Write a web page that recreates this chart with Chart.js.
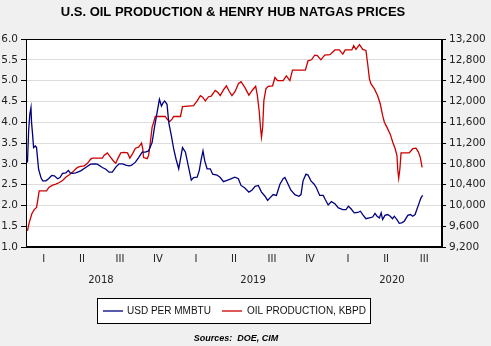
<!DOCTYPE html>
<html>
<head>
<meta charset="utf-8">
<script src="https://cdn.jsdelivr.net/npm/chart.js@4.4.0/dist/chart.umd.min.js"></script>
<style>
  html, body { margin: 0; padding: 0; background: #f0f0f0; }
  canvas { display: block; }
</style>
</head>
<body>
<canvas id="oilGasChart" width="491" height="346"></canvas>
<script>
// x values are weeks counted from 1 Jan 2018
let gasWeeks = [
    0.9, 1.3, 1.7, 2.1, 2.3, 2.6, 3.0, 3.6, 4.0, 4.7, 5.5, 6.1, 7.2, 8.1, 9.2, 10.1,
    11.2, 12.0, 12.9, 14.0, 14.9, 15.5, 16.3, 17.4, 19.1, 20.8, 22.5, 23.7, 24.8, 26.5,
    27.7, 28.8, 29.9, 31.1, 32.2, 33.4, 34.5, 35.6, 36.4, 37.8, 38.9, 40.1, 41.2, 42.3,
    43.5, 44.4, 45.2, 46.0, 46.7, 47.3, 47.8, 48.6, 49.2, 50.1, 50.9, 51.7, 52.6, 53.5,
    53.9, 54.9, 56.0, 56.9, 57.7, 58.9, 59.6, 60.3, 60.9, 61.5, 62.3, 63.4, 64.2, 65.7,
    66.8, 67.9, 69.1, 70.2, 71.8, 73.0, 73.9, 75.2, 76.6, 77.7, 78.7, 79.8, 80.9, 82.1,
    83.0, 83.8, 84.9, 86.0, 87.2, 88.3, 88.9, 89.8, 90.9, 92.3, 93.7, 94.4, 95.1, 96.1,
    96.8, 97.8, 98.9, 99.7, 100.8, 102.0, 102.7, 103.7, 104.8, 106.0, 107.2, 108.7, 109.8,
    110.6, 111.5, 112.6, 113.8, 114.7, 115.5, 116.6, 117.8, 118.9, 119.7, 120.4, 121.2,
    121.8, 122.3, 123.1, 124.0, 124.9, 125.7, 126.3, 127.2, 128.0, 128.8, 129.7, 130.9,
    131.8, 132.6, 133.4, 134.0, 134.8, 135.4, 136.0
];

let gasPrices = [
    3.03, 3.79, 4.19, 4.35, 3.99, 3.75, 3.39, 3.43, 3.39, 2.87, 2.67, 2.59, 2.59, 2.64, 2.72, 2.71,
    2.64, 2.67, 2.77, 2.78, 2.84, 2.78, 2.77, 2.78, 2.83, 2.91, 2.99, 3.00, 2.99, 2.91,
    2.87, 2.80, 2.80, 2.92, 3.00, 3.00, 2.97, 2.95, 2.96, 3.04, 3.15, 3.28, 3.28, 3.31,
    3.51, 3.91, 4.23, 4.55, 4.39, 4.47, 4.51, 4.43, 3.99, 3.67, 3.35, 3.11, 2.88, 3.23,
    3.39, 3.28, 2.91, 2.61, 2.67, 2.68, 2.83, 3.11, 3.31, 3.07, 2.88, 2.88, 2.75, 2.73,
    2.67, 2.57, 2.60, 2.63, 2.68, 2.64, 2.48, 2.42, 2.32, 2.37, 2.46, 2.48, 2.32, 2.22,
    2.12, 2.18, 2.26, 2.24, 2.51, 2.64, 2.67, 2.54, 2.37, 2.26, 2.22, 2.26, 2.59, 2.75,
    2.73, 2.59, 2.51, 2.42, 2.24, 2.24, 2.14, 2.01, 2.09, 2.04, 1.94, 1.90, 1.90,
    1.98, 1.92, 1.82, 1.83, 1.86, 1.78, 1.68, 1.70, 1.72, 1.81, 1.74, 1.70,
    1.82, 1.66, 1.76, 1.78, 1.74, 1.68, 1.74, 1.66, 1.57, 1.58, 1.62, 1.76,
    1.78, 1.74, 1.78, 1.90, 2.06, 2.18, 2.24
];

let oilWeeks = [
    0.9, 1.5, 2.4, 3.2, 4.0, 4.4, 4.9, 7.4, 8.3, 9.5, 10.6, 11.8, 12.9, 14.0, 15.2, 16.3,
    17.4, 18.0, 19.1, 20.3, 21.4, 22.5, 23.1, 26.5, 27.1, 28.2, 29.4, 30.5, 31.1, 31.7,
    32.8, 33.9, 35.1, 35.9, 36.9, 37.8, 38.9, 39.9, 40.3, 40.6, 41.8, 42.3, 42.9, 43.5,
    44.0, 44.6, 48.0, 48.6, 49.5, 50.3, 50.9, 53.2, 53.9, 57.7, 58.9, 60.0, 60.8, 61.7,
    62.8, 63.7, 65.1, 66.0, 66.8, 67.9, 68.9, 69.9, 70.8, 71.9, 73.0, 73.9, 75.2, 76.6,
    77.7, 78.9, 79.5, 80.1, 80.6, 80.9, 81.3, 81.7, 82.4, 83.2, 84.7, 85.5, 86.4, 88.3,
    89.4, 90.6, 91.5, 95.9, 96.8, 98.0, 99.1, 100.0, 101.2, 102.5, 104.3, 106.0, 107.5,
    108.7, 109.5, 111.8, 112.4, 113.2, 114.4, 115.5, 116.6, 117.2, 117.8, 118.3, 119.5,
    120.6, 121.5, 122.3, 122.9, 123.8, 124.9, 125.8, 126.6, 127.2, 127.5, 127.8, 128.2,
    128.6, 131.4, 132.6, 133.7, 134.5, 135.2, 135.8
];

let oilOutput = [
    9510, 9670, 9840, 9920, 9960, 10090, 10280, 10280, 10350, 10390, 10410, 10440, 10480, 10540, 10590, 10640,
    10700, 10730, 10750, 10760, 10810, 10890, 10910, 10910, 10960, 11010, 10920, 10840, 10810, 10890,
    11010, 11020, 11010, 10910, 11000, 11100, 11120, 11200, 11090, 10920, 10900, 10960, 11210, 11500,
    11590, 11710, 11710, 11660, 11610, 11660, 11710, 11710, 11900, 11920, 12010, 12110, 12080, 12010,
    12090, 12100, 12210, 12170, 12110, 12220, 12300, 12190, 12110, 12190, 12340, 12380, 12270, 12120,
    12210, 12290, 12110, 11820, 11470, 11310, 11500, 12010, 12240, 12290, 12300, 12460, 12400, 12400,
    12490, 12400, 12600, 12600, 12780, 12800, 12890, 12880, 12800, 12890, 12900, 12990, 12990,
    12910, 12990, 12990, 13070, 13000, 13090, 13000, 12980, 12720, 12430, 12340, 12240,
    12110, 11950, 11730, 11600, 11500, 11370, 11210, 11090, 10960, 10670, 10520, 10700,
    11010, 11010, 11090, 11100, 11030, 10920, 10730
];

let quarterLabels = ['I', 'II', 'III', 'IV', 'I', 'II', 'III', 'IV', 'I', 'II', 'III'];
let yearLabels = ['2018', '2019', '2020'];
let yearCenters = [26, 78, 125.5];

const dateFont = { family: 'DejaVu Sans', size: 10 };
const valueFont = { family: 'DejaVu Sans', size: 10.5 };

// grey page, white plot, black frame, title, boxed legend and source line
const decorations = {
    id: 'decorations',
    beforeDraw(chart) {
        const ctx = chart.ctx;
        const a = chart.chartArea;
        ctx.save();
        ctx.fillStyle = '#f0f0f0';
        ctx.fillRect(0, 0, chart.width, chart.height);
        ctx.fillStyle = '#ffffff';
        ctx.fillRect(a.left, a.top, a.right - a.left, a.bottom - a.top);
        ctx.restore();
    },
    afterDraw(chart) {
        const ctx = chart.ctx;
        const a = chart.chartArea;
        ctx.save();
        ctx.strokeStyle = '#000000';
        ctx.lineWidth = 1;
        ctx.strokeRect(Math.round(a.left) + 0.5, Math.round(a.top) + 0.5,
            Math.round(a.right - a.left) - 1, Math.round(a.bottom - a.top) - 1);

        ctx.fillStyle = '#000000';
        ctx.textAlign = 'center';
        ctx.textBaseline = 'middle';
        ctx.font = 'bold 13px "Liberation Sans"';
        ctx.fillText('U.S. OIL PRODUCTION & HENRY HUB NATGAS PRICES', 233, 12);

        // legend
        ctx.fillStyle = '#ffffff';
        ctx.fillRect(97, 298, 273, 25);
        ctx.strokeRect(97.5, 298.5, 273, 25);
        const ly = 311;
        ctx.lineWidth = 1.3;
        ctx.strokeStyle = '#000080';
        ctx.beginPath(); ctx.moveTo(103, ly); ctx.lineTo(123, ly); ctx.stroke();
        ctx.strokeStyle = '#cc0000';
        ctx.beginPath(); ctx.moveTo(222, ly); ctx.lineTo(242, ly); ctx.stroke();
        ctx.fillStyle = '#111111';
        ctx.textAlign = 'left';
        ctx.font = '10px "Liberation Sans"';
        ctx.fillText(chart.data.datasets[0].label, 127, ly);
        ctx.fillText(chart.data.datasets[1].label, 247, ly);

        ctx.textAlign = 'center';
        ctx.font = 'italic bold 9px "Liberation Sans"';
        ctx.fillStyle = '#000000';
        ctx.fillText('Sources:  DOE, CIM', 236, 339);
        ctx.restore();
    }
};

const config = {
    type: 'line',
    data: {
        datasets: [{
            label: 'USD PER MMBTU',
            data: gasWeeks.map((w, i) => ({ x: w, y: gasPrices[i] })),
            borderColor: '#000080',
            yAxisID: 'y'
        }, {
            label: 'OIL PRODUCTION, KBPD',
            data: oilWeeks.map((w, i) => ({ x: w, y: oilOutput[i] })),
            borderColor: '#cc0000',
            yAxisID: 'y1'
        }]
    },
    options: {
        responsive: false,
        animation: false,
        layout: { padding: { top: 39, left: 0, right: 0, bottom: 0 } },
        elements: {
            point: { radius: 0 },
            line: { borderWidth: 1.3, tension: 0 }
        },
        plugins: {
            legend: { display: false },
            title: { display: false },
            tooltip: { enabled: false }
        },
        scales: {
            x: {
                type: 'linear',
                min: 0.4,
                max: 142.6,
                weight: 0,
                grid: { display: false, drawTicks: false },
                border: { display: true, color: '#000000' },
                afterBuildTicks: s => { s.ticks = quarterLabels.map((q, i) => ({ value: 6.5 + 13 * i })); },
                afterFit: s => { s.height = 20; },
                ticks: {
                    autoSkip: false,
                    maxRotation: 0,
                    padding: 6,
                    color: '#222222',
                    font: dateFont,
                    callback: (v, i) => quarterLabels[i]
                }
            },
            x2: {
                type: 'linear',
                position: 'bottom',
                min: 0.4,
                max: 142.6,
                weight: 1,
                grid: { display: false, drawTicks: false },
                border: { display: false },
                afterBuildTicks: s => { s.ticks = yearCenters.map(v => ({ value: v })); },
                afterFit: s => { s.height = 79; },
                ticks: {
                    autoSkip: false,
                    maxRotation: 0,
                    padding: 7,
                    color: '#222222',
                    font: dateFont,
                    callback: (v, i) => yearLabels[i]
                }
            },
            y: {
                position: 'left',
                min: 1,
                max: 6,
                afterFit: s => { s.width = 26; },
                grid: { color: '#dddddd', tickColor: '#000000', tickLength: 5, lineWidth: 1 },
                border: { display: true, color: '#000000' },
                ticks: {
                    stepSize: 0.5,
                    padding: 3,
                    color: '#222222',
                    font: valueFont,
                    callback: v => v.toFixed(1)
                }
            },
            y1: {
                position: 'right',
                min: 9200,
                max: 13200,
                afterFit: s => { s.width = 49; },
                grid: { drawOnChartArea: false, tickColor: '#000000', tickLength: 4 },
                border: { display: true, color: '#000000' },
                ticks: {
                    stepSize: 400,
                    padding: 3,
                    color: '#222222',
                    font: valueFont,
                    callback: v => v.toLocaleString('en-US')
                }
            }
        }
    },
    plugins: [decorations]
};

const chart = new Chart(document.getElementById('oilGasChart'), config);
</script>
</body>
</html>
